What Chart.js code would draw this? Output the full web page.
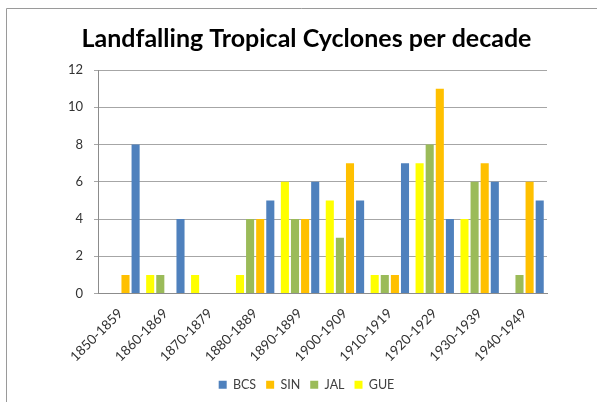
<!DOCTYPE html>
<html>
<head>
<meta charset="utf-8">
<script src="https://cdn.jsdelivr.net/npm/chart.js@4.4.1/dist/chart.umd.min.js"></script>
<style>
  html, body { margin: 0; padding: 0; background: #ffffff; }
  #wrap { width: 597px; height: 402px; position: relative; }
</style>
</head>
<body>
<div id="wrap"><canvas id="chart" width="597" height="402"></canvas></div>
<script>
// Landfalling tropical cyclones per decade, by state
const decades = ['1850-1859', '1860-1869', '1870-1879', '1880-1889', '1890-1899',
                 '1900-1909', '1910-1919', '1920-1929', '1930-1939', '1940-1949'];
const BCS = [8, 4, 0, 5, 6, 5, 7, 4, 6, 5];
const SIN = [1, 0, 0, 4, 4, 7, 1, 11, 7, 6];
const JAL = [0, 1, 0, 4, 4, 3, 1, 8, 6, 1];
const GUE = [0, 1, 1, 1, 6, 5, 1, 7, 4, 0];
const yTicks = [0, 2, 4, 6, 8, 10, 12];

const FONT = 'Lato, "Liberation Sans", sans-serif';

// Thin frame around the chart panel
const framePlugin = {
  id: 'frame',
  beforeDraw(chart) {
    const ctx = chart.ctx;
    ctx.save();
    ctx.fillStyle = '#ffffff';
    ctx.fillRect(0, 0, chart.width, chart.height);
    ctx.strokeStyle = '#9a9a9a';
    ctx.lineWidth = 1;
    ctx.beginPath();
    ctx.moveTo(6.5, chart.height);
    ctx.lineTo(6.5, 8.5);
    ctx.lineTo(chart.width, 8.5);
    ctx.stroke();
    ctx.restore();
  }
};

new Chart(document.getElementById('chart'), {
  type: 'bar',
  data: {
    labels: decades,
    datasets: [
      { label: 'GUE', data: GUE, backgroundColor: '#FFFF00' },
      { label: 'JAL', data: JAL, backgroundColor: '#9BBB59' },
      { label: 'SIN', data: SIN, backgroundColor: '#FFC000' },
      { label: 'BCS', data: BCS, backgroundColor: '#4F81BD' }
    ]
  },
  options: {
    responsive: false,
    animation: false,
    devicePixelRatio: 1,
    layout: { padding: { left: 66, right: 50, top: 0, bottom: 1 } },
    datasets: {
      bar: { categoryPercentage: 0.9, barPercentage: 0.8 }
    },
    plugins: {
      title: {
        display: true,
        text: 'Landfalling Tropical Cyclones per decade',
        color: '#000000',
        font: { family: FONT, size: 25, weight: 'bold' },
        padding: { top: 24, bottom: 16 }
      },
      legend: {
        position: 'bottom',
        reverse: true,
        labels: {
          boxWidth: 8,
          boxHeight: 8,
          padding: 10,
          color: '#404040',
          font: { family: FONT, size: 12.5 }
        }
      },
      tooltip: { enabled: false }
    },
    scales: {
      x: {
        grid: { display: false, drawTicks: false },
        border: { display: true, color: '#8c8c8c', width: 1 },
        ticks: {
          color: '#333333',
          font: { family: FONT, size: 13.5 },
          minRotation: 45,
          maxRotation: 45,
          padding: 12,
          autoSkip: false
        },
        afterFit(scale) { scale.height = 75; }
      },
      y: {
        min: 0,
        max: 12,
        afterBuildTicks(scale) { scale.ticks = yTicks.map(v => ({ value: v })); },
        grid: { color: '#a6a6a6', tickLength: 4, lineWidth: 1 },
        border: { display: true, color: '#8c8c8c', width: 1 },
        ticks: {
          color: '#333333',
          font: { family: FONT, size: 13 },
          padding: 11
        },
        afterFit(scale) { scale.width = 32; }
      }
    }
  },
  plugins: [framePlugin]
});
</script>
</body>
</html>
